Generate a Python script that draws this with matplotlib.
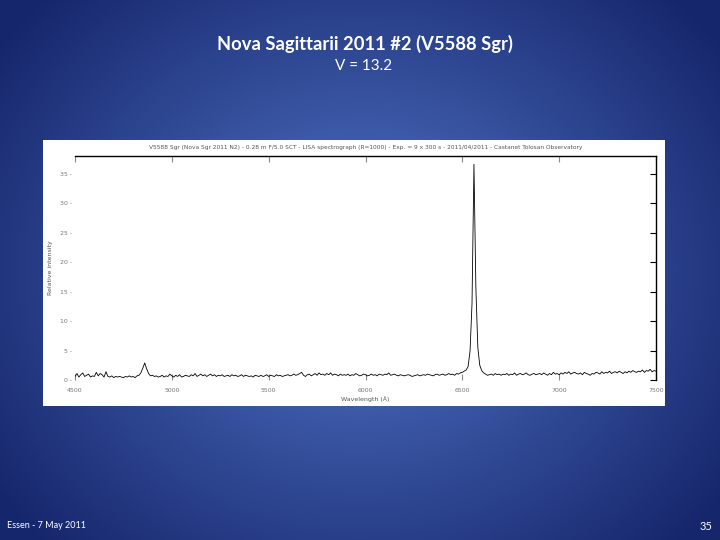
import numpy as np
import matplotlib
matplotlib.use("Agg")
import matplotlib.pyplot as plt
from matplotlib.patches import Rectangle

# ---- data ----
wl_start, wl_stop, wl_step = 4500, 7500, 10
flux = [
    0.6, 1.1, 0.5, 0.9, 1.2, 0.6, 0.8, 1.0, 0.5, 0.7,
    0.6, 1.3, 0.7, 1.1, 0.9, 0.5, 1.4, 0.6, 0.5, 0.7,
    0.4, 0.6, 0.5, 0.6, 0.5, 0.4, 0.6, 0.5, 0.7, 0.5,
    0.6, 0.4, 0.7, 0.8, 1.2, 2.0, 2.9, 1.9, 1.1, 0.7,
    0.8, 0.6, 0.7, 0.5, 0.6, 0.8, 0.5, 0.7, 0.6, 1.0,
    0.7, 0.5, 0.8, 0.6, 0.9, 0.5, 0.6, 0.8, 0.7, 0.6,
    0.9, 0.7, 1.1, 0.6, 0.8, 1.0, 0.7, 0.9, 0.6, 0.8,
    1.0, 0.7, 0.9, 0.6, 0.8, 0.7, 0.9, 0.6, 0.7, 0.8,
    0.6, 0.9, 0.7, 0.8, 0.6, 0.7, 0.9, 0.6, 0.8, 0.7,
    0.6, 0.7, 0.5, 0.8, 0.7, 0.6, 0.8, 0.6, 0.7, 0.9,
    0.6, 0.8, 0.7, 0.6, 0.9, 0.7, 0.8, 0.6, 0.7, 0.8,
    0.9, 0.7, 0.8, 1.0, 0.8, 0.9, 1.1, 1.3, 0.8, 0.6,
    0.9, 1.0, 0.7, 0.9, 1.1, 0.8, 1.2, 0.9, 1.0, 0.8,
    1.1, 0.9, 1.2, 0.8, 1.0, 0.9, 0.7, 1.0, 0.8, 0.9,
    0.8, 1.0, 0.7, 0.9, 0.8, 1.1, 0.9, 0.7, 0.8, 1.0,
    0.9, 0.7, 0.8, 1.0, 0.8, 0.9, 0.7, 1.0, 0.9, 0.8,
    1.0, 0.9, 1.2, 0.8, 0.9, 1.0, 0.8, 0.7, 0.9, 0.8,
    0.7, 0.8, 0.9, 0.8, 0.6, 0.7, 0.8, 0.9, 0.7, 0.8,
    0.9, 0.8, 1.0, 0.9, 0.8, 0.7, 0.9, 1.0, 0.8, 0.9,
    1.0, 0.8, 0.9, 1.1, 0.9, 1.0, 0.8, 1.1, 1.0, 1.2,
    1.3, 1.5, 1.7, 2.3, 5.0, 13.0, 36.6, 15.5, 5.5, 2.5,
    1.6, 1.2, 1.0, 0.8, 0.9, 1.0, 0.8, 1.1, 0.9, 1.0,
    0.8, 1.0, 0.9, 1.1, 0.8, 1.0, 0.9, 1.2, 0.8, 1.0,
    1.1, 0.9, 1.0, 1.2, 0.9, 0.8, 1.0, 1.1, 0.9, 1.0,
    1.1, 0.9, 1.2, 1.0, 0.8, 1.1, 0.9, 1.3, 1.0, 1.1,
    0.9, 1.2, 1.0, 1.3, 1.1, 1.4, 1.0, 1.2, 1.3, 1.1,
    1.0, 1.2, 0.9, 1.3, 1.1, 1.0, 0.8, 1.1, 1.0, 1.3,
    1.2, 1.0, 1.4, 1.1, 1.3, 1.2, 1.5, 1.1, 1.3, 1.4,
    1.2, 1.5, 1.3, 1.1, 1.4, 1.2, 1.5, 1.3, 1.6, 1.4,
    1.3, 1.5, 1.4, 1.7, 1.3, 1.6, 1.5, 1.8, 1.4, 1.6,
    1.5,
]
wavelength = np.arange(wl_start, wl_stop + 1, wl_step)
x_ticks = [4500, 5000, 5500, 6000, 6500, 7000, 7500]
y_ticks = [0, 5, 10, 15, 20, 25, 30, 35]

slide_title = "Nova Sagittarii 2011 #2 (V5588 Sgr)"
slide_sub = "V = 13.2"
footer = "Essen - 7 May 2011"
page = "35"
chart_title = ("V5588 Sgr (Nova Sgr 2011 N2) - 0.28 m F/5.0 SCT - LISA spectrograph (R=1000) "
               "- Exp. = 9 x 300 s - 2011/04/2011 - Castanet Tolosan Observatory")

# ---- figure & background ----
fig = plt.figure(figsize=(7.2, 5.4), dpi=100)
bg = fig.add_axes([0, 0, 1, 1])
H, W = 270, 360
yy, xx = np.mgrid[0:H, 0:W]
r = np.sqrt(((xx - W * 0.5) / (W * 0.62)) ** 2 + ((yy - H * 0.5) / (H * 0.72)) ** 2)
r = np.clip(r, 0, 1)
c_center = np.array([82, 118, 200]) / 255.0
c_edge = np.array([22, 38, 108]) / 255.0
img = c_center[None, None, :] * (1 - r[..., None]) + c_edge[None, None, :] * r[..., None]
bg.imshow(img, extent=[0, 1, 0, 1], aspect="auto", origin="upper")
bg.set_xlim(0, 1)
bg.set_ylim(0, 1)
bg.axis("off")

# white panel
bg.add_patch(Rectangle((43 / 720, 1 - 406 / 540), 622 / 720, 266 / 540,
                       facecolor="white", edgecolor="none"))

fig.text(365 / 720, 1 - 44 / 540, slide_title, ha="center", va="center",
         color="white", fontsize=13.2, fontweight="bold", family="Lato")
fig.text(364 / 720, 1 - 66 / 540, slide_sub, ha="center", va="center",
         color="white", fontsize=11, family="Lato")
fig.text(7 / 720, 1 - 526 / 540, footer, ha="left", va="center",
         color="white", fontsize=6.5, family="Lato")
fig.text(712 / 720, 1 - 526 / 540, page, ha="right", va="center",
         color="white", fontsize=8, family="Lato")

# ---- spectrum axes ----
ax = fig.add_axes([75 / 720, 1 - 380 / 540, 581 / 720, 224 / 540])
ax.set_facecolor("none")
ax.plot(wavelength, flux, color="black", lw=0.6)
ax.set_xlim(4500, 7500)
ax.set_ylim(0, 38)
ax.spines["left"].set_visible(False)
ax.spines["bottom"].set_visible(False)
ax.spines["top"].set_linewidth(1.0)
ax.spines["right"].set_linewidth(1.0)
ax.set_xticks(x_ticks)
ax.set_yticks(y_ticks)
ax.set_xticklabels([str(v) for v in x_ticks])
ax.set_yticklabels([f"{v} -" for v in y_ticks])
ax.tick_params(axis="x", direction="in", length=4, width=0.8, top=True, bottom=True,
               labelsize=4.5, labelcolor="#777777", pad=6, color="#888888")
ax.tick_params(axis="y", direction="in", length=4, width=0.8, right=True, left=False,
               labelsize=4.5, labelcolor="#777777", pad=2)
ax.set_xlabel("Wavelength (Å)", fontsize=4.5, color="#555555", labelpad=2)
ax.set_ylabel("Relative intensity", fontsize=4.5, color="#555555", labelpad=5)
ax.set_title(chart_title, fontsize=4.2, color="#555555", pad=5)

fig.savefig("out.png", dpi=100)
